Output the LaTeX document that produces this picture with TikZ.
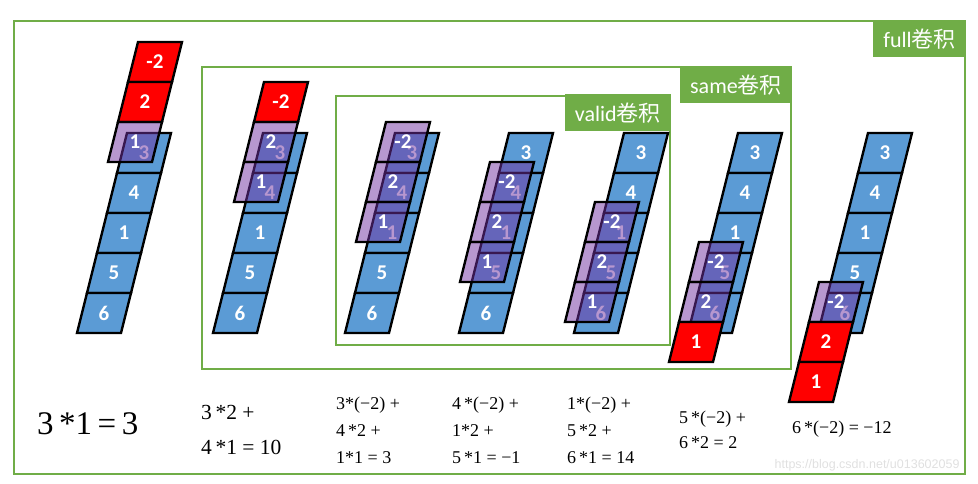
\documentclass[tikz,border=0pt]{standalone}
\usepackage{fontspec}
\setmainfont{Liberation Serif}
\newfontfamily\cellfont{Carlito}
\newfontfamily\cjk{Noto Sans CJK SC}
\newfontfamily\wmfont{Liberation Sans}
\definecolor{cblue}{HTML}{5B9BD5}
\definecolor{cred}{HTML}{FF0000}
\definecolor{cpurple}{HTML}{7030A0}
\definecolor{cgreen}{HTML}{70AD47}

\begin{document}
\begin{tikzpicture}[
  x=1pt, y=-1pt,
  cell/.style={draw=black, line width=2.4pt},
  bcell/.style={cell, fill=cblue},
  kred/.style={cell, fill=cred},
  kpur/.style={cell, fill=cpurple, fill opacity=0.5},
  num/.style={font=\cellfont\bfseries\fontsize{21}{21}\selectfont, text=white, inner sep=0pt},
  gframe/.style={draw=cgreen, line width=2.6pt},
  tag/.style={fill=cgreen, text=white, anchor=north east, minimum height=37pt,
    inner xsep=10pt, font=\fontsize{22}{22}\selectfont},
  eq/.style={anchor=west, align=left, inner sep=0pt}
]
\useasboundingbox (0,0) rectangle (978,484);

% the three padding modes
\draw[gframe] (14,21) rectangle (965,474);
\draw[gframe] (202,67) rectangle (791,369);
\draw[gframe] (336,96) rectangle (670,345);
\node[tag] (full)  at (966,20) {{\cellfont full}{\cjk 卷积}};
\node[tag] (same)  at (792,66) {{\cellfont same}{\cjk 卷积}};
\node[tag] (valid) at (671,94) {{\cellfont valid}{\cjk 卷积}};

% input signal, one stack per step
\foreach \xo [count=\c] in {127,263,395,509,624,738,868}
  \foreach \v [count=\i from 0] in {3,4,1,5,6} {
    \draw[bcell] (\xo-10*\i, 133+40*\i) -- ++(44,0) -- ++(-10,40) -- ++(-44,0) -- cycle;
    \node[num] (b\c\i) at (\xo-10*\i+17, 153+40*\i) {\v};
  }

% flipped kernel sliding down
\foreach \xo/\t/\fa/\fb/\fc [count=\c] in {127/-2/kred/kred/kpur, 263/-1/kred/kpur/kpur,
    395/0/kpur/kpur/kpur, 509/1/kpur/kpur/kpur, 624/2/kpur/kpur/kpur,
    738/3/kpur/kpur/kred, 868/4/kpur/kred/kred}
  \foreach \v/\f [count=\j from 0] in {-2/\fa, 2/\fb, 1/\fc} {
    \pgfmathtruncatemacro\k{\t+\j}
    \draw[\f] (\xo-10*\k-9, 122+40*\k) -- ++(44,0) -- ++(-10,40) -- ++(-44,0) -- cycle;
    \node[num] (k\c\j) at (\xo-10*\k+8, 142+40*\k) {\v};
  }

\node[eq, font=\fontsize{33}{33}\selectfont] (e1) at (37,424) {3\,*1\,=\,3};
\node[eq, font=\fontsize{21.5}{35}\selectfont] (e2) at (201,430) {3\,*2 +\\4\,*1 = 10};
\node[eq, font=\fontsize{18}{27}\selectfont] (e3) at (336,430) {3*(−2) +\\4\,*2 +\\1*1 = 3};
\node[eq, font=\fontsize{18}{27}\selectfont] (e4) at (452,430) {4\,*(−2) +\\1*2 +\\5\,*1 = −1};
\node[eq, font=\fontsize{18}{27}\selectfont] (e5) at (567,430) {1*(−2) +\\5\,*2 +\\6\,*1 = 14};
\node[eq, font=\fontsize{18}{25}\selectfont] (e6) at (679,430) {5\,*(−2) +\\6\,*2 = 2};
\node[eq, font=\fontsize{18}{25}\selectfont] (e7) at (792,429) {6\,*(−2) = −12};

\node[font=\wmfont\fontsize{12.5}{12.5}\selectfont, text=black!12, anchor=east] (wm)
  at (963,465) {https://blog.csdn.net/u013602059};
\end{tikzpicture}
\end{document}
